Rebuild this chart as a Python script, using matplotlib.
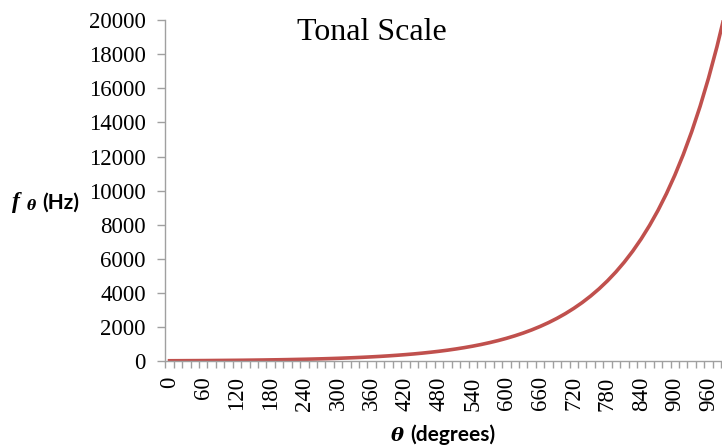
import numpy as np
import matplotlib.pyplot as plt
from matplotlib.ticker import FixedLocator

# tonal scale: angle (degrees) vs frequency (Hz)
theta = [0, 15, 30, 45, 60, 75, 90, 105, 120, 135, 150, 165, 180, 195, 210,
         225, 240, 255, 270, 285, 300, 315, 330, 345, 360, 375, 390, 405, 420,
         435, 450, 465, 480, 495, 510, 525, 540, 555, 570, 585, 600, 615, 630,
         645, 660, 675, 690, 705, 720, 735, 750, 765, 780, 795, 810, 825, 840,
         855, 870, 885, 900, 915, 930, 945, 960, 975, 990]
freq = [20, 22, 25, 27, 30, 34, 38, 42, 46, 51, 57, 63, 71, 78, 87,
        97, 107, 119, 132, 147, 163, 182, 202, 224, 249, 276, 307, 341, 379,
        420, 467, 519, 576, 640, 711, 790, 877, 974, 1082, 1202, 1335, 1483, 1647,
        1829, 2032, 2257, 2507, 2784, 3093, 3435, 3816, 4238, 4708, 5229, 5808, 6451, 7165,
        7959, 8840, 9819, 10906, 12114, 13456, 14946, 16601, 18439, 20480]

x_labels = list(range(0, 961, 60))
y_ticks = list(range(0, 20001, 2000))

grey = '#a0a0a0'
serif = 'Liberation Serif'
sans = 'Lato'

fig = plt.figure(figsize=(7.22, 4.48), dpi=100)
ax = fig.add_axes([0.229, 0.194, 0.771, 0.761])

ax.plot(theta, freq, color='#c0504d', lw=2.6, solid_joinstyle='round')

ax.set_xlim(-7.5, 984)
ax.set_ylim(0, 20000)

for s in ['top', 'right']:
    ax.spines[s].set_visible(False)
for s in ['left', 'bottom']:
    ax.spines[s].set_color(grey)
    ax.spines[s].set_linewidth(1.0)

ax.set_yticks(y_ticks)
ax.set_yticklabels([str(v) for v in y_ticks], fontfamily=serif, fontsize=16.5)
ax.tick_params(axis='y', direction='out', length=6, width=1, color=grey, pad=8)

ax.set_xticks(x_labels)
ax.set_xticklabels([str(v) for v in x_labels], fontfamily=serif, fontsize=16.5,
                   rotation=90, va='top', ha='center')
ax.tick_params(axis='x', which='major', length=0, pad=11)
ax.xaxis.set_minor_locator(FixedLocator(np.arange(-7.5, 984, 15)))
ax.tick_params(axis='x', which='minor', direction='out', length=5, width=1, color=grey)

fig.text(0.5146, 0.911, 'Tonal Scale', fontfamily=serif, fontsize=23,
         ha='center', va='baseline')

# y label: f_theta (Hz)
fig.text(0.016, 0.535, 'f', fontfamily=serif, fontsize=17, fontweight='bold',
         fontstyle='italic', ha='left', va='baseline')
fig.text(0.037, 0.531, '\u03b8', fontfamily='DejaVu Serif', fontsize=10,
         fontweight='bold', fontstyle='italic', ha='left', va='baseline')
fig.text(0.059, 0.535, '(Hz)', fontfamily=sans, fontsize=15, fontweight='bold',
         ha='left', va='baseline')

# x label: theta (degrees)
fig.text(0.541, 0.016, '\u03b8', fontfamily='DejaVu Serif', fontsize=14,
         fontweight='bold', fontstyle='italic', ha='left', va='baseline')
fig.text(0.568, 0.016, '(degrees)', fontfamily=sans, fontsize=15,
         fontweight='bold', ha='left', va='baseline')

fig.savefig('out.png', dpi=100)
